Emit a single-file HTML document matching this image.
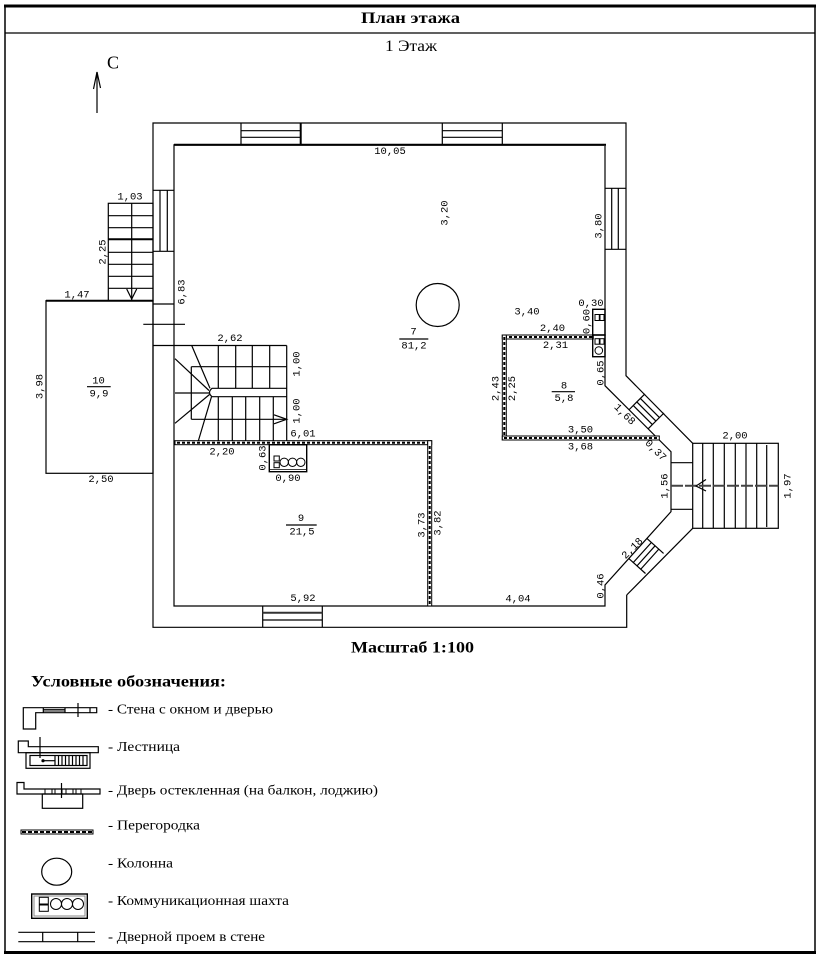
<!DOCTYPE html>
<html><head><meta charset="utf-8"><style>
html,body{margin:0;padding:0;background:#fff;}
svg{display:block;}
.d{font-family:"Liberation Mono",monospace;font-size:10.5px;fill:#000;stroke:none;}
.s{font-family:"Liberation Serif",serif;fill:#000;stroke:none;}
</style></head><body>
<svg width="820" height="957" viewBox="0 0 820 957" xmlns="http://www.w3.org/2000/svg">
<rect x="0" y="0" width="820" height="957" fill="#fff"/>
<g fill="none" stroke="#000" stroke-width="1.2">
<!-- frame -->
<line x1="5" y1="6" x2="5" y2="953" stroke-width="1.5"/>
<line x1="815" y1="6" x2="815" y2="953" stroke-width="1.5"/>
<line x1="4" y1="6" x2="816" y2="6" stroke-width="3"/>
<line x1="4" y1="952.5" x2="816" y2="952.5" stroke-width="3"/>
<line x1="5" y1="33" x2="815" y2="33" stroke-width="1.3"/>

<!-- compass -->
<line x1="97" y1="72" x2="97" y2="113"/>
<polyline points="93.5,89 97,72 100.5,88"/>

<!-- outer walls -->
<polyline points="626.7,595 626.7,627.3 153,627.3 153,123 626,123 626,375.7 692.7,443.3"/>
<line x1="692.7" y1="528.3" x2="626.7" y2="595"/>
<!-- inner walls -->
<polyline points="605,146 605,385.7 671,451.7 671,511.7 605,585 605,606 174,606 174,144.3"/>
<line x1="174" y1="144.8" x2="606" y2="144.8" stroke-width="2.2"/>

<!-- top windows -->
<line x1="241" y1="123" x2="241" y2="144"/>
<line x1="300.7" y1="123" x2="300.7" y2="144" stroke-width="2"/>
<line x1="241" y1="130.7" x2="300.7" y2="130.7"/>
<line x1="241" y1="137.3" x2="300.7" y2="137.3"/>
<line x1="442.3" y1="123" x2="442.3" y2="144"/>
<line x1="502.3" y1="123" x2="502.3" y2="144"/>
<line x1="442.3" y1="130.7" x2="502.3" y2="130.7"/>
<line x1="442.3" y1="137.3" x2="502.3" y2="137.3"/>
<!-- right window -->
<line x1="605" y1="188.3" x2="626" y2="188.3"/>
<line x1="605" y1="249.3" x2="626" y2="249.3"/>
<line x1="611.7" y1="188.3" x2="611.7" y2="249.3"/>
<line x1="618.3" y1="188.3" x2="618.3" y2="249.3"/>
<!-- left window -->
<line x1="153" y1="190.3" x2="174" y2="190.3"/>
<line x1="153" y1="251.3" x2="174" y2="251.3"/>
<line x1="160" y1="190.3" x2="160" y2="251.3"/>
<line x1="167.3" y1="190.3" x2="167.3" y2="251.3"/>
<!-- left door -->
<line x1="153" y1="304" x2="174" y2="304"/>
<line x1="143.3" y1="324.3" x2="185" y2="324.3"/>
<!-- bottom window -->
<line x1="262.7" y1="606" x2="262.7" y2="627.3"/>
<line x1="322.3" y1="606" x2="322.3" y2="627.3"/>
<line x1="262.7" y1="612.7" x2="322.3" y2="612.7" stroke-width="2" stroke="#333"/>
<line x1="262.7" y1="620" x2="322.3" y2="620"/>
<!-- bay door -->
<line x1="671" y1="462.7" x2="692.7" y2="462.7"/>
<line x1="671" y1="509.3" x2="692.7" y2="509.3"/>

<!-- diagonal windows -->
<g transform="translate(605,385.7) rotate(45)">
<line x1="34" y1="0" x2="34" y2="-22.4"/>
<line x1="61" y1="0" x2="61" y2="-22.4"/>
<line x1="34" y1="-6" x2="61" y2="-6"/>
<line x1="34" y1="-11" x2="61" y2="-11"/>
<line x1="34" y1="-16" x2="61" y2="-16"/>
</g>
<g transform="translate(671,511.7) rotate(132)">
<line x1="36" y1="0" x2="36" y2="-22.4"/>
<line x1="63" y1="0" x2="63" y2="-22.4"/>
<line x1="36" y1="-6" x2="63" y2="-6"/>
<line x1="36" y1="-11" x2="63" y2="-11"/>
<line x1="36" y1="-16" x2="63" y2="-16"/>
</g>

<!-- left exterior stair -->
<rect x="108.3" y="203.3" width="44.7" height="97.4"/>
<line x1="108.3" y1="215.7" x2="153" y2="215.7"/>
<line x1="108.3" y1="227.7" x2="153" y2="227.7"/>
<line x1="108.3" y1="239.3" x2="153" y2="239.3" stroke-width="2"/>
<line x1="108.3" y1="252.3" x2="153" y2="252.3"/>
<line x1="108.3" y1="264.3" x2="153" y2="264.3"/>
<line x1="108.3" y1="276.3" x2="153" y2="276.3"/>
<line x1="108.3" y1="288.3" x2="153" y2="288.3"/>
<line x1="131.7" y1="203.3" x2="131.7" y2="300.7"/>
<polyline points="126.7,289 131.7,299 136.7,289"/>
<!-- room 10 -->
<rect x="46" y="300.7" width="107" height="172.6"/>
<line x1="46" y1="300.7" x2="153" y2="300.7" stroke-width="2"/>

<!-- interior stair -->
<line x1="153" y1="345.5" x2="286.7" y2="345.5"/>
<line x1="286.7" y1="345.5" x2="286.7" y2="441"/>
<line x1="218.3" y1="345.5" x2="218.3" y2="388.3"/>
<line x1="235.7" y1="345.5" x2="235.7" y2="388.3"/>
<line x1="252.3" y1="345.5" x2="252.3" y2="388.3"/>
<line x1="269.7" y1="345.5" x2="269.7" y2="388.3"/>
<line x1="191.3" y1="366.7" x2="286.7" y2="366.7"/>
<line x1="191.3" y1="419.3" x2="286.7" y2="419.3"/>
<line x1="191.3" y1="366.7" x2="191.3" y2="419.3"/>
<path d="M286.7,388.3 L212,388.3 Q207,392.5 212,396.7 L286.7,396.7"/>
<line x1="218.3" y1="396.7" x2="218.3" y2="441"/>
<line x1="232.3" y1="396.7" x2="232.3" y2="441"/>
<line x1="245.7" y1="396.7" x2="245.7" y2="441"/>
<line x1="259.7" y1="396.7" x2="259.7" y2="441"/>
<line x1="273.3" y1="396.7" x2="273.3" y2="441"/>
<line x1="175" y1="393" x2="209" y2="393"/>
<line x1="191.7" y1="345.5" x2="210" y2="388.3"/>
<line x1="175" y1="358.7" x2="209" y2="390.5"/>
<line x1="175" y1="423.3" x2="209.5" y2="394.5"/>
<line x1="198.3" y1="441" x2="211.5" y2="396.7"/>
<polyline points="274,414.8 286.7,419.3 274,423.8"/>

<!-- partitions -->
<rect x="175" y="440.7" width="256.7" height="4" fill="#fff" stroke-width="1"/>
<line x1="177" y1="442.7" x2="430" y2="442.7" stroke-width="2" stroke-dasharray="3 2"/>
<rect x="427.7" y="440.7" width="4" height="165.3" fill="#fff" stroke-width="1"/>
<line x1="429.7" y1="446" x2="429.7" y2="605" stroke-width="2" stroke-dasharray="3 2"/>
<!-- room 8 partitions -->
<rect x="502.3" y="335" width="91" height="4" fill="#fff" stroke-width="1"/>
<line x1="504" y1="337" x2="592" y2="337" stroke-width="2" stroke-dasharray="3 2"/>
<rect x="502.3" y="335" width="4" height="105" fill="#fff" stroke-width="1"/>
<line x1="504.3" y1="337" x2="504.3" y2="438" stroke-width="2" stroke-dasharray="3 2"/>
<rect x="502.3" y="436" width="157" height="4" fill="#fff" stroke-width="1"/>
<line x1="504" y1="438" x2="658" y2="438" stroke-width="2" stroke-dasharray="3 2"/>

<!-- comm shaft room 9 -->
<rect x="269.3" y="444.7" width="37.4" height="27" stroke-width="1.4"/>
<line x1="269.3" y1="469.5" x2="306.7" y2="469.5" stroke-width="0.8"/>
<rect x="274" y="456" width="5.3" height="5" stroke-width="1"/>
<rect x="274" y="462.7" width="5.3" height="5" stroke-width="1"/>
<circle cx="284.2" cy="462.3" r="4.2" stroke-width="1"/>
<circle cx="292.5" cy="462.3" r="4.2" stroke-width="1"/>
<circle cx="300.8" cy="462.3" r="4.2" stroke-width="1"/>
<!-- shaft near room 8 -->
<rect x="592.7" y="309.3" width="12.3" height="25.7" stroke-width="1.4"/>
<rect x="595" y="314.5" width="4.3" height="6" stroke-width="1"/>
<rect x="600" y="314.5" width="4" height="6" stroke-width="1"/>
<rect x="592.7" y="335" width="12.3" height="21.7" stroke-width="1.4"/>
<rect x="595" y="338.7" width="4.3" height="5.5" stroke-width="1"/>
<rect x="600" y="338.7" width="4" height="5.5" stroke-width="1"/>
<circle cx="598.8" cy="350.5" r="3.8" stroke-width="1"/>

<!-- column -->
<circle cx="437.7" cy="305" r="21.5"/>

<!-- right exterior stair -->
<rect x="692.7" y="443.3" width="85.6" height="85"/>
<line x1="702.7" y1="443.3" x2="702.7" y2="528.3"/>
<line x1="713.3" y1="443.3" x2="713.3" y2="528.3"/>
<line x1="724.3" y1="443.3" x2="724.3" y2="528.3"/>
<line x1="735.3" y1="443.3" x2="735.3" y2="528.3"/>
<line x1="746" y1="443.3" x2="746" y2="528.3"/>
<line x1="756.7" y1="443.3" x2="756.7" y2="528.3"/>
<line x1="766.7" y1="445" x2="766.7" y2="527"/>
<line x1="671" y1="485.7" x2="778.3" y2="485.7" stroke="#444" stroke-width="2" stroke-dasharray="12 2"/>
<polyline points="706,479.5 696,486 706,491"/>

<!-- fraction lines -->
<line x1="87" y1="386.7" x2="110.7" y2="386.7"/>
<line x1="399.3" y1="339" x2="428.3" y2="339"/>
<line x1="286" y1="525" x2="316.7" y2="525"/>
<line x1="551.7" y1="391.7" x2="575" y2="391.7"/>

<!-- LEGEND ICONS -->
<polygon points="23.3,707.7 96.7,707.7 96.7,712.7 35.7,712.7 35.7,729 23.3,729"/>
<line x1="43.3" y1="709.4" x2="65" y2="709.4" stroke-width="0.9"/>
<line x1="43.3" y1="711" x2="65" y2="711" stroke-width="0.9"/>
<line x1="43.3" y1="707.7" x2="43.3" y2="712.7"/>
<line x1="65" y1="707.7" x2="65" y2="712.7"/>
<line x1="90" y1="707.7" x2="90" y2="712.7"/>
<line x1="78" y1="703" x2="78" y2="717"/>

<polygon points="18.3,741 28.3,741 28.3,746.7 98.3,746.7 98.3,752.7 18.3,752.7"/>
<line x1="40" y1="737" x2="40" y2="758"/>
<rect x="26" y="752.7" width="64" height="15.6"/>
<rect x="30" y="755.5" width="57" height="10"/>
<line x1="43" y1="760.7" x2="55" y2="760.7"/>
<circle cx="43" cy="760.7" r="1" fill="#000"/>
<line x1="55" y1="755.5" x2="55" y2="765.5"/><line x1="58.5" y1="755.5" x2="58.5" y2="765.5"/>
<line x1="62" y1="755.5" x2="62" y2="765.5"/><line x1="65.5" y1="755.5" x2="65.5" y2="765.5"/>
<line x1="69" y1="755.5" x2="69" y2="765.5"/><line x1="72.5" y1="755.5" x2="72.5" y2="765.5"/>
<line x1="76" y1="755.5" x2="76" y2="765.5"/><line x1="79.5" y1="755.5" x2="79.5" y2="765.5"/>
<line x1="83" y1="755.5" x2="83" y2="765.5"/>

<polygon points="17,782.5 24,782.5 24,789 100,789 100,794 17,794"/>
<rect x="42.3" y="794" width="40.4" height="14.3"/>
<rect x="45" y="789" width="7" height="5" stroke-width="1"/>
<rect x="55" y="789" width="7" height="5" stroke-width="1"/>
<rect x="66" y="789" width="7" height="5" stroke-width="1"/>
<rect x="76" y="789" width="5" height="5" stroke-width="1"/>
<line x1="61.5" y1="783" x2="61.5" y2="798"/>

<rect x="21" y="830" width="72" height="4" fill="#fff" stroke-width="1"/>
<line x1="22" y1="832" x2="92" y2="832" stroke-width="2" stroke-dasharray="4 2"/>

<ellipse cx="56.7" cy="871.7" rx="15" ry="13.5"/>

<rect x="31.7" y="894" width="55.6" height="24.3" stroke-width="1.4"/>
<rect x="34" y="896" width="51" height="20" stroke="#888" stroke-width="1"/>
<rect x="39.3" y="897.3" width="9" height="6.7" stroke-width="1"/>
<rect x="39.3" y="905" width="9" height="6.3" stroke-width="1"/>
<circle cx="56" cy="904" r="5.5" stroke-width="1"/>
<circle cx="67" cy="904" r="5.5" stroke-width="1"/>
<circle cx="78" cy="904" r="5.5" stroke-width="1"/>

<line x1="18.3" y1="932.3" x2="95" y2="932.3"/>
<line x1="18.3" y1="941.7" x2="95" y2="941.7"/>
<line x1="42.7" y1="932.3" x2="42.7" y2="941.7"/>
<line x1="77.7" y1="932.3" x2="77.7" y2="941.7"/>
</g>

<!-- headers -->
<text class="s" x="410.5" y="23" text-anchor="middle" font-size="16" font-weight="bold" textLength="99" lengthAdjust="spacingAndGlyphs">План этажа</text>
<text class="s" x="411" y="51" text-anchor="middle" font-size="16" textLength="52" lengthAdjust="spacingAndGlyphs">1 Этаж</text>
<text class="s" x="113" y="68.5" text-anchor="middle" font-size="18">С</text>
<text class="s" x="412.5" y="652.5" text-anchor="middle" font-size="16" font-weight="bold" textLength="123" lengthAdjust="spacingAndGlyphs">Масштаб 1:100</text>
<text class="s" x="31" y="686.5" font-size="16" font-weight="bold" textLength="195" lengthAdjust="spacingAndGlyphs">Условные обозначения:</text>
<text class="s" x="108" y="713.5" font-size="14" textLength="165" lengthAdjust="spacingAndGlyphs">- Стена с окном и дверью</text>
<text class="s" x="108" y="751" font-size="14" textLength="72" lengthAdjust="spacingAndGlyphs">- Лестница</text>
<text class="s" x="108" y="794.5" font-size="14" textLength="270" lengthAdjust="spacingAndGlyphs">- Дверь остекленная (на балкон, лоджию)</text>
<text class="s" x="108" y="829.5" font-size="14" textLength="92" lengthAdjust="spacingAndGlyphs">- Перегородка</text>
<text class="s" x="108" y="867.5" font-size="14" textLength="65" lengthAdjust="spacingAndGlyphs">- Колонна</text>
<text class="s" x="108" y="905" font-size="14" textLength="181" lengthAdjust="spacingAndGlyphs">- Коммуникационная шахта</text>
<text class="s" x="108" y="941" font-size="14" textLength="157" lengthAdjust="spacingAndGlyphs">- Дверной проем в стене</text>

<!-- dimension labels -->
<g class="d" text-anchor="middle">
<text x="390" y="154">10,05</text>
<text transform="translate(444,213) rotate(-90)" y="3.5">3,20</text>
<text transform="translate(598,226) rotate(-90)" y="3.5">3,80</text>
<text x="130" y="199.5">1,03</text>
<text transform="translate(102,252) rotate(-90)" y="3.5">2,25</text>
<text x="77" y="297.5">1,47</text>
<text transform="translate(181,292) rotate(-90)" y="3.5">6,83</text>
<text x="230" y="341">2,62</text>
<text transform="translate(296,364) rotate(-90)" y="3.5">1,00</text>
<text transform="translate(296,411) rotate(-90)" y="3.5">1,00</text>
<text x="303" y="436.5">6,01</text>
<text transform="translate(39,386.5) rotate(-90)" y="3.5">3,98</text>
<text x="98.5" y="383.5">10</text>
<text x="99" y="396.5">9,9</text>
<text x="101" y="482">2,50</text>
<text x="222" y="454.5">2,20</text>
<text transform="translate(262,458) rotate(-90)" y="3.5">0,63</text>
<text x="288" y="481">0,90</text>
<text x="301" y="521">9</text>
<text x="302" y="534.5">21,5</text>
<text transform="translate(421,525) rotate(-90)" y="3.5">3,73</text>
<text transform="translate(437,523) rotate(-90)" y="3.5">3,82</text>
<text x="303" y="601">5,92</text>
<text x="518" y="601.5">4,04</text>
<text transform="translate(600,586) rotate(-90)" y="3.5">0,46</text>
<text x="413.5" y="334.5">7</text>
<text x="414" y="348.5">81,2</text>
<text x="527" y="314.5">3,40</text>
<text x="591" y="306">0,30</text>
<text transform="translate(586,321.5) rotate(-90)" y="3.5">0,60</text>
<text x="552.5" y="331">2,40</text>
<text x="555.5" y="348">2,31</text>
<text transform="translate(495,388.5) rotate(-90)" y="3.5">2,43</text>
<text transform="translate(511.5,388.5) rotate(-90)" y="3.5">2,25</text>
<text x="564" y="388.5">8</text>
<text x="564" y="401">5,8</text>
<text transform="translate(600,373) rotate(-90)" y="3.5">0,65</text>
<text transform="translate(625,414) rotate(45)" y="3.5">1,68</text>
<text x="580.5" y="432.5">3,50</text>
<text x="580.5" y="449.5">3,68</text>
<text transform="translate(656,450) rotate(45)" y="3.5">0,37</text>
<text transform="translate(664,486) rotate(-90)" y="3.5">1,56</text>
<text x="735" y="438.5">2,00</text>
<text transform="translate(787,486) rotate(-90)" y="3.5">1,97</text>
<text transform="translate(632,548) rotate(-45)" y="3.5">2,18</text>
</g>
</svg>
</body></html>
